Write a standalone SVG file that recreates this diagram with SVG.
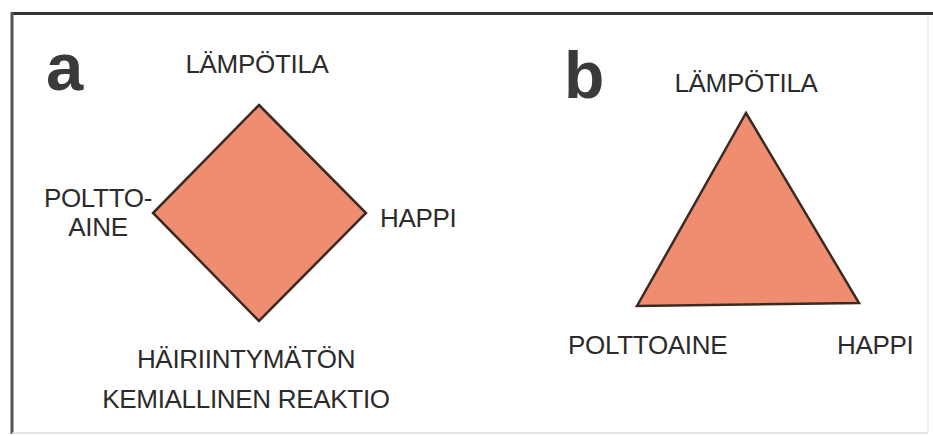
<svg xmlns="http://www.w3.org/2000/svg" width="933" height="436" viewBox="0 0 933 436">
  <style>
    .lbl { font-family: "Liberation Sans", Arial, sans-serif; font-size: 26px; fill: #2b2b2b; letter-spacing: -0.3px; }
    .big { font-family: "Liberation Sans", Arial, sans-serif; font-weight: bold; fill: #3a3a3a; }
    .shape { fill: #EE8D6F; stroke: #3b2a22; stroke-width: 2.5; stroke-linejoin: miter; }
  </style>
  <rect width="933" height="436" fill="#ffffff"/>
  <g id="frame">
    <line x1="12" y1="13.5" x2="933" y2="13.5" stroke="#333" stroke-width="3"/>
    <line x1="12" y1="12" x2="12" y2="434" stroke="#555" stroke-width="3"/>
    <line x1="12" y1="433" x2="928" y2="433" stroke="#ddd" stroke-width="1.5"/>
    <line x1="928" y1="15" x2="928" y2="433" stroke="#e6e6e6" stroke-width="1.5"/>
  </g>
  <g id="panel-a">
    <text class="big" x="46" y="90" font-size="67">a</text>
    <g id="diamond">
      <polygon class="shape" points="259,105 366,213 259,321 153,213"/>
    </g>
    <g id="a-lampotila"><text class="lbl" x="257" y="73" text-anchor="middle">LÄMPÖTILA</text></g>
    <g id="a-polttoaine">
      <text class="lbl" x="98" y="207" text-anchor="middle" letter-spacing="-1.2">POLTTO-</text>
      <text class="lbl" x="98" y="236" text-anchor="middle">AINE</text>
    </g>
    <g id="a-happi"><text class="lbl" x="380" y="227">HAPPI</text></g>
    <g id="a-reaktio">
      <text class="lbl" x="246" y="368" text-anchor="middle">HÄIRIINTYMÄTÖN</text>
      <text class="lbl" x="246" y="408" text-anchor="middle">KEMIALLINEN REAKTIO</text>
    </g>
  </g>
  <g id="panel-b">
    <text class="big" x="564" y="98" font-size="66">b</text>
    <g id="triangle">
      <polygon class="shape" points="746,113 859,303 637,306"/>
    </g>
    <g id="b-lampotila"><text class="lbl" x="746" y="92" text-anchor="middle">LÄMPÖTILA</text></g>
    <g id="b-polttoaine"><text class="lbl" x="568" y="354" letter-spacing="-0.1">POLTTOAINE</text></g>
    <g id="b-happi"><text class="lbl" x="837" y="354">HAPPI</text></g>
  </g>
</svg>
